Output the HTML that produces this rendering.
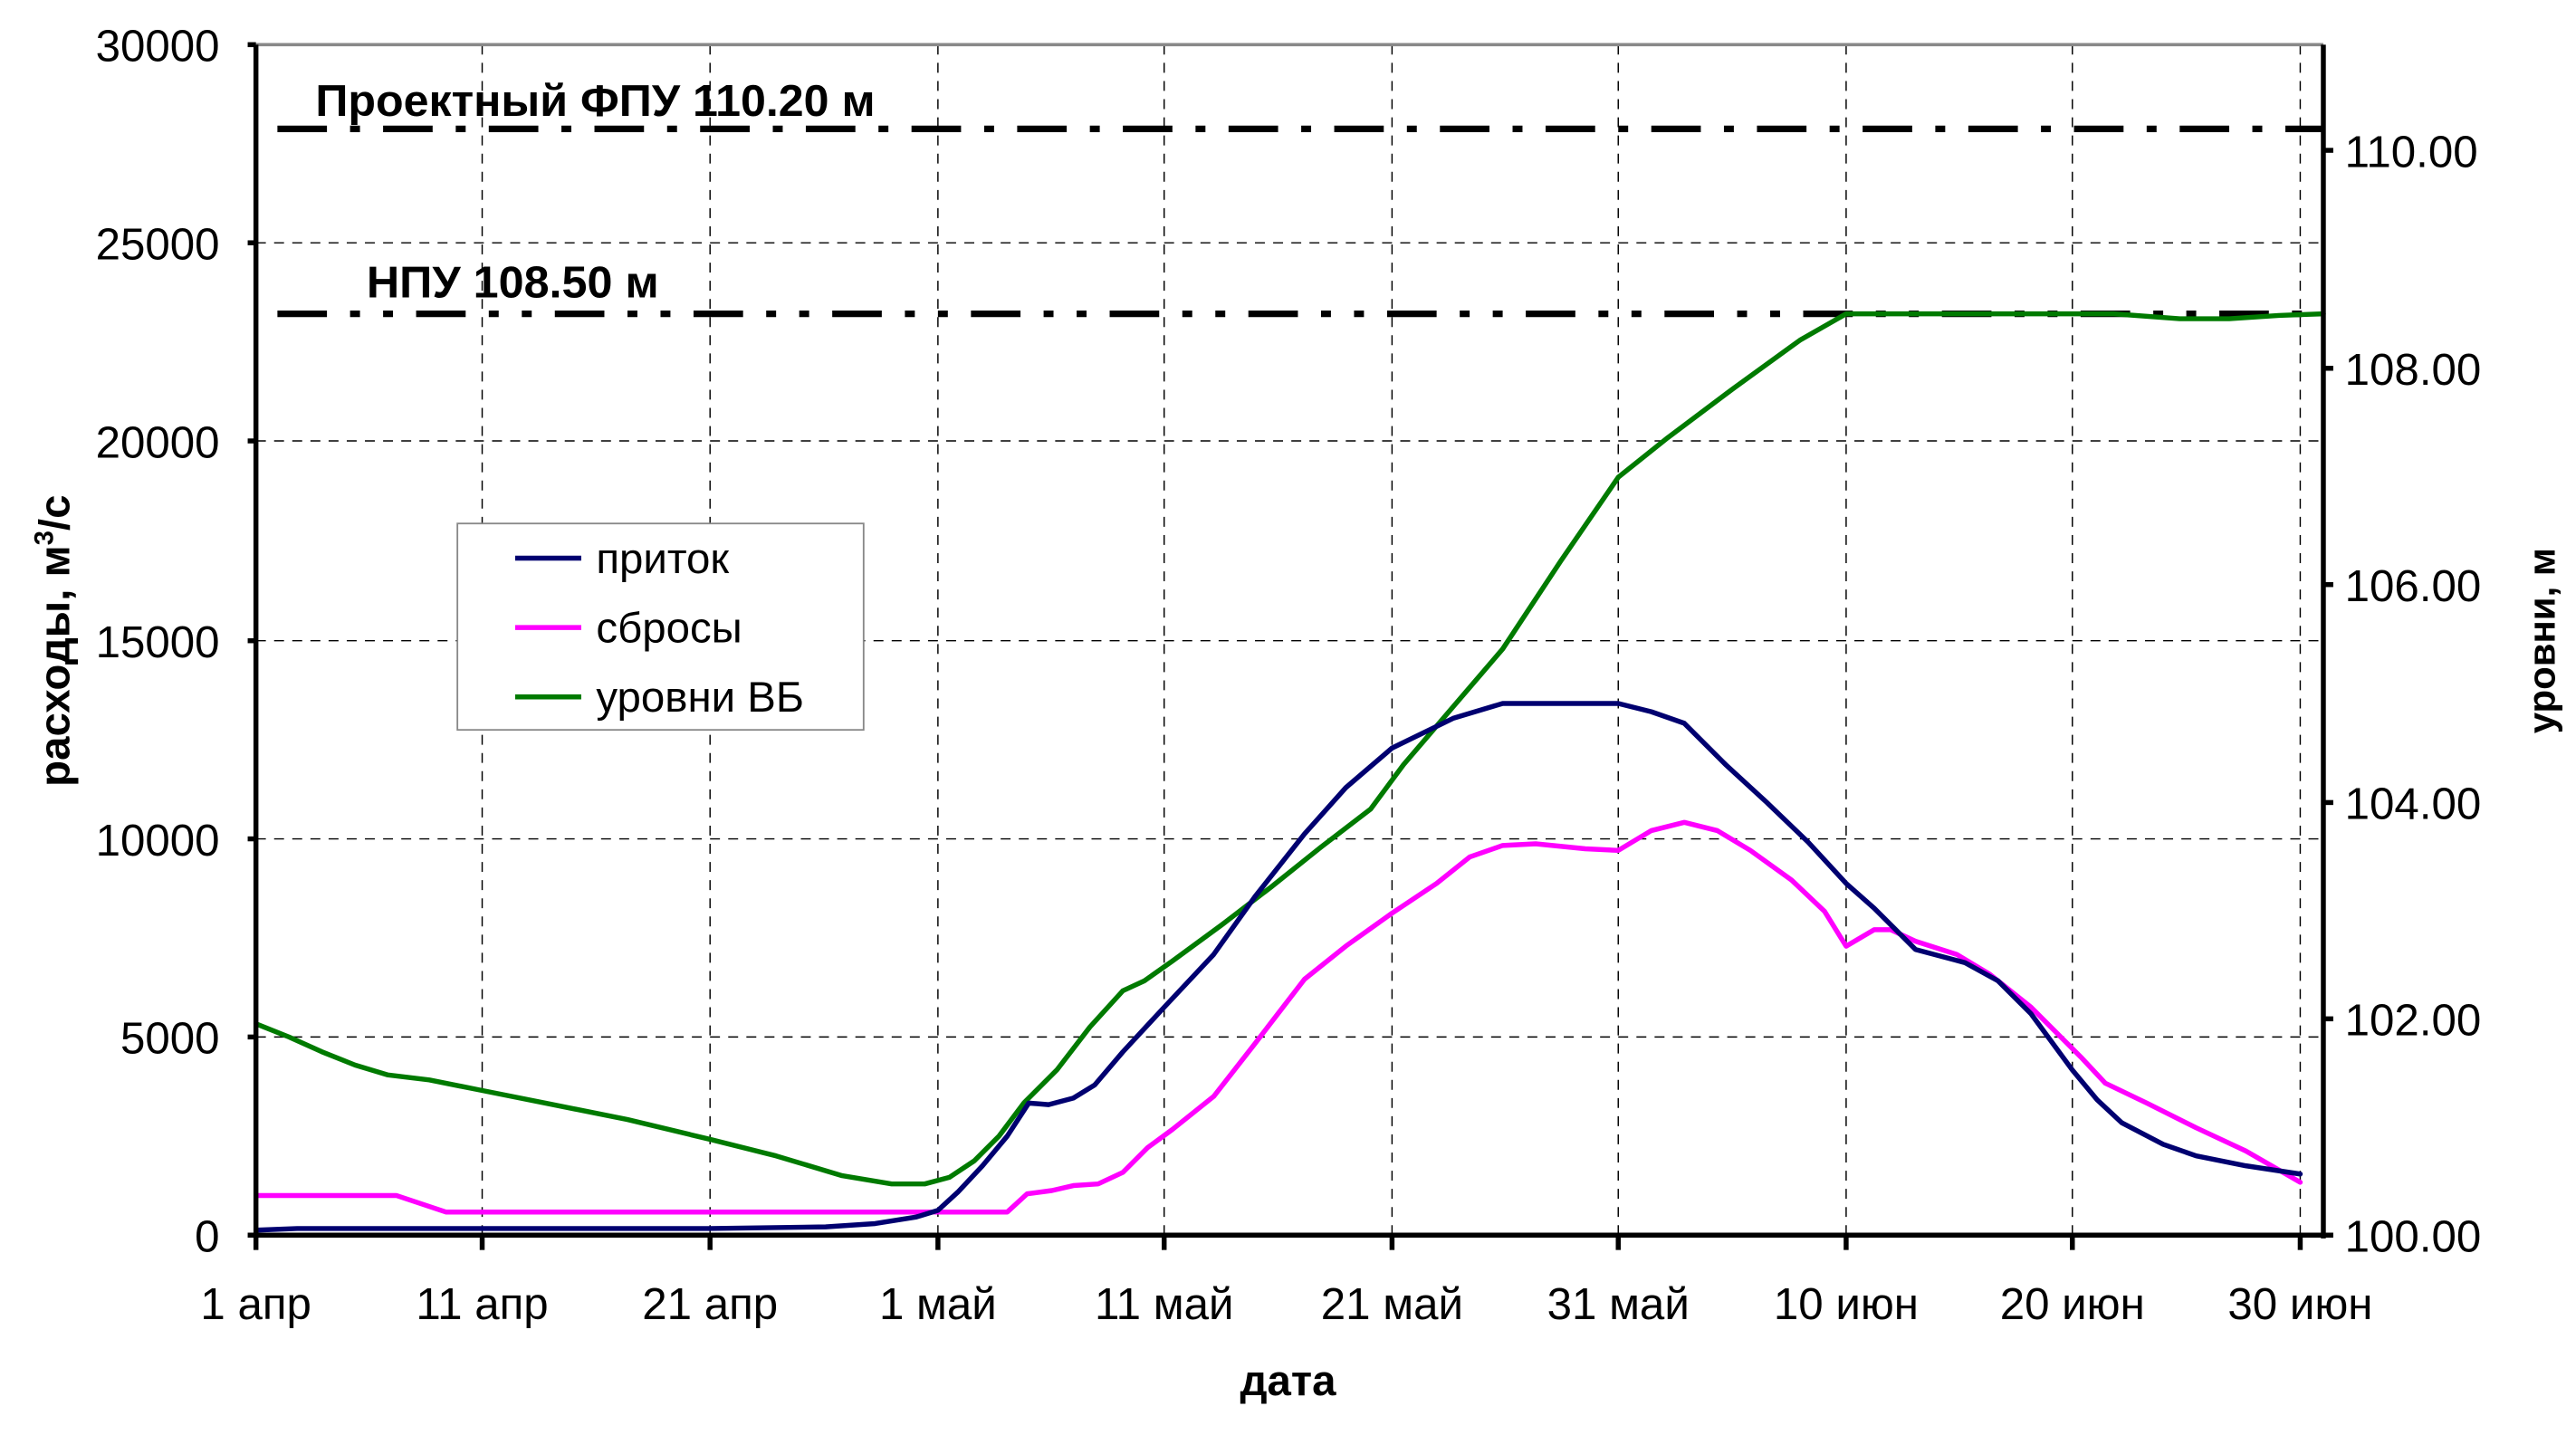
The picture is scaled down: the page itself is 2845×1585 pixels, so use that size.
<!DOCTYPE html>
<html><head><meta charset="utf-8"><style>html,body{margin:0;padding:0;background:#fff}svg{display:block}</style></head>
<body>
<svg width="2845" height="1585" viewBox="0 0 1560 869" xmlns="http://www.w3.org/2000/svg" font-family="Liberation Sans, Arial, sans-serif">
<rect width="1560" height="869" fill="#fff"/>
<g stroke="#000" stroke-width="0.8" stroke-dasharray="6,5" fill="none">
<line x1="155" y1="147" x2="1407" y2="147"/>
<line x1="155" y1="267" x2="1407" y2="267"/>
<line x1="155" y1="388" x2="1407" y2="388"/>
<line x1="155" y1="508" x2="1407" y2="508"/>
<line x1="155" y1="628" x2="1407" y2="628"/>
<line x1="292" y1="27" x2="292" y2="748"/>
<line x1="430" y1="27" x2="430" y2="748"/>
<line x1="568" y1="27" x2="568" y2="748"/>
<line x1="705" y1="27" x2="705" y2="748"/>
<line x1="843" y1="27" x2="843" y2="748"/>
<line x1="980" y1="27" x2="980" y2="748"/>
<line x1="1118" y1="27" x2="1118" y2="748"/>
<line x1="1255" y1="27" x2="1255" y2="748"/>
<line x1="1393" y1="27" x2="1393" y2="748"/>
</g>
<line x1="155" y1="27" x2="1407" y2="27" stroke="#888" stroke-width="2"/>
<line x1="168" y1="78" x2="1407" y2="78" stroke="#000" stroke-width="4" stroke-dasharray="30,14,6,14"/>
<line x1="168" y1="190" x2="1407" y2="190" stroke="#000" stroke-width="4" stroke-dasharray="30,14,6,14,6,14"/>
<text x="191" y="70" font-size="27" font-weight="bold" textLength="339" lengthAdjust="spacingAndGlyphs">Проектный ФПУ 110.20 м</text>
<text x="222" y="180" font-size="27" font-weight="bold" textLength="177" lengthAdjust="spacingAndGlyphs">НПУ 108.50 м</text>
<g fill="none" stroke-width="3" stroke-linejoin="round" stroke-linecap="round">
<polyline stroke="#007a00" points="155,620 175,628 195,637 215,645 235,651 260,654 290,660 330,668 380,678 430,690 470,700 510,712 540,717 560,717 575,713 590,703 605,688 620,668 640,648 660,622 680,600 693,594 710,582 740,560 770,537 800,513 830,490 850,463 880,428 910,393 945,340 980,289 1010,265 1050,235 1090,206 1118,190 1200,190 1280,190 1320,193 1350,193 1380,191 1407,190"/>
<polyline stroke="#ff00ff" points="155,724 240,724 255,729 270,734 290,734 600,734 610,734 622,723 637,721 650,718 665,717 680,710 695,695 710,684 735,664 760,632 790,593 815,573 843,553 870,535 890,519 910,512 930,511 960,514 980,515 1000,503 1020,498 1040,503 1060,515 1085,533 1105,552 1118,573 1135,563 1145,563 1160,570 1185,578 1205,590 1230,610 1260,640 1275,656 1300,668 1330,683 1360,697 1393,716"/>
<polyline stroke="#000070" points="155,745 180,744 300,744 430,744 500,743 530,741 555,737 568,733 580,722 595,706 610,688 623,668 635,669 650,665 663,657 680,637 705,610 735,578 760,543 790,505 815,477 843,453 880,435 910,426 930,426 960,426 980,426 1000,431 1020,438 1045,463 1070,486 1095,510 1118,535 1135,550 1160,575 1190,583 1210,594 1230,614 1255,648 1270,666 1285,680 1310,693 1330,700 1360,706 1393,711"/>
</g>
<g stroke="#000" stroke-width="3" fill="none">
<line x1="155" y1="27" x2="155" y2="750"/>
<line x1="1407" y1="27" x2="1407" y2="750"/>
<line x1="150" y1="748" x2="1413" y2="748"/>
<line x1="150" y1="27" x2="155" y2="27"/><line x1="150" y1="147" x2="155" y2="147"/><line x1="150" y1="267" x2="155" y2="267"/><line x1="150" y1="388" x2="155" y2="388"/><line x1="150" y1="508" x2="155" y2="508"/><line x1="150" y1="628" x2="155" y2="628"/>
<line x1="1407" y1="91" x2="1413" y2="91"/><line x1="1407" y1="223" x2="1413" y2="223"/><line x1="1407" y1="354" x2="1413" y2="354"/><line x1="1407" y1="486" x2="1413" y2="486"/><line x1="1407" y1="617" x2="1413" y2="617"/>
<line x1="155" y1="748" x2="155" y2="757"/><line x1="292" y1="748" x2="292" y2="757"/><line x1="430" y1="748" x2="430" y2="757"/><line x1="568" y1="748" x2="568" y2="757"/><line x1="705" y1="748" x2="705" y2="757"/><line x1="843" y1="748" x2="843" y2="757"/><line x1="980" y1="748" x2="980" y2="757"/><line x1="1118" y1="748" x2="1118" y2="757"/><line x1="1255" y1="748" x2="1255" y2="757"/><line x1="1393" y1="748" x2="1393" y2="757"/>
</g>
<g font-size="27" text-anchor="end">
<text x="133" y="37">30000</text><text x="133" y="157">25000</text><text x="133" y="277">20000</text><text x="133" y="398">15000</text><text x="133" y="518">10000</text><text x="133" y="638">5000</text><text x="133" y="758">0</text>
</g>
<g font-size="27">
<text x="1420" y="101">110.00</text><text x="1420" y="233">108.00</text><text x="1420" y="364">106.00</text><text x="1420" y="496">104.00</text><text x="1420" y="627">102.00</text><text x="1420" y="758">100.00</text>
</g>
<g font-size="27" text-anchor="middle">
<text x="155" y="799">1 апр</text><text x="292" y="799">11 апр</text><text x="430" y="799">21 апр</text><text x="568" y="799">1 май</text><text x="705" y="799">11 май</text><text x="843" y="799">21 май</text><text x="980" y="799">31 май</text><text x="1118" y="799">10 июн</text><text x="1255" y="799">20 июн</text><text x="1393" y="799">30 июн</text>
</g>
<text x="780" y="845" font-size="26" font-weight="bold" text-anchor="middle">дата</text>
<text transform="translate(42,388) rotate(-90)" font-size="26" font-weight="bold" text-anchor="middle">расходы, м<tspan font-size="16" dy="-10">3</tspan><tspan dy="10">/с</tspan></text>
<text transform="translate(1547,388) rotate(-90)" font-size="23" font-weight="bold" text-anchor="middle">уровни, м</text>
<rect x="277" y="317" width="246" height="125" fill="#fff" stroke="#888" stroke-width="1"/>
<g stroke-width="3"><line x1="312" y1="338" x2="352" y2="338" stroke="#000070"/><line x1="312" y1="380" x2="352" y2="380" stroke="#ff00ff"/><line x1="312" y1="422" x2="352" y2="422" stroke="#007a00"/></g>
<g font-size="26"><text x="361" y="347">приток</text><text x="361" y="389">сбросы</text><text x="361" y="431">уровни ВБ</text></g>
</svg>
</body></html>
